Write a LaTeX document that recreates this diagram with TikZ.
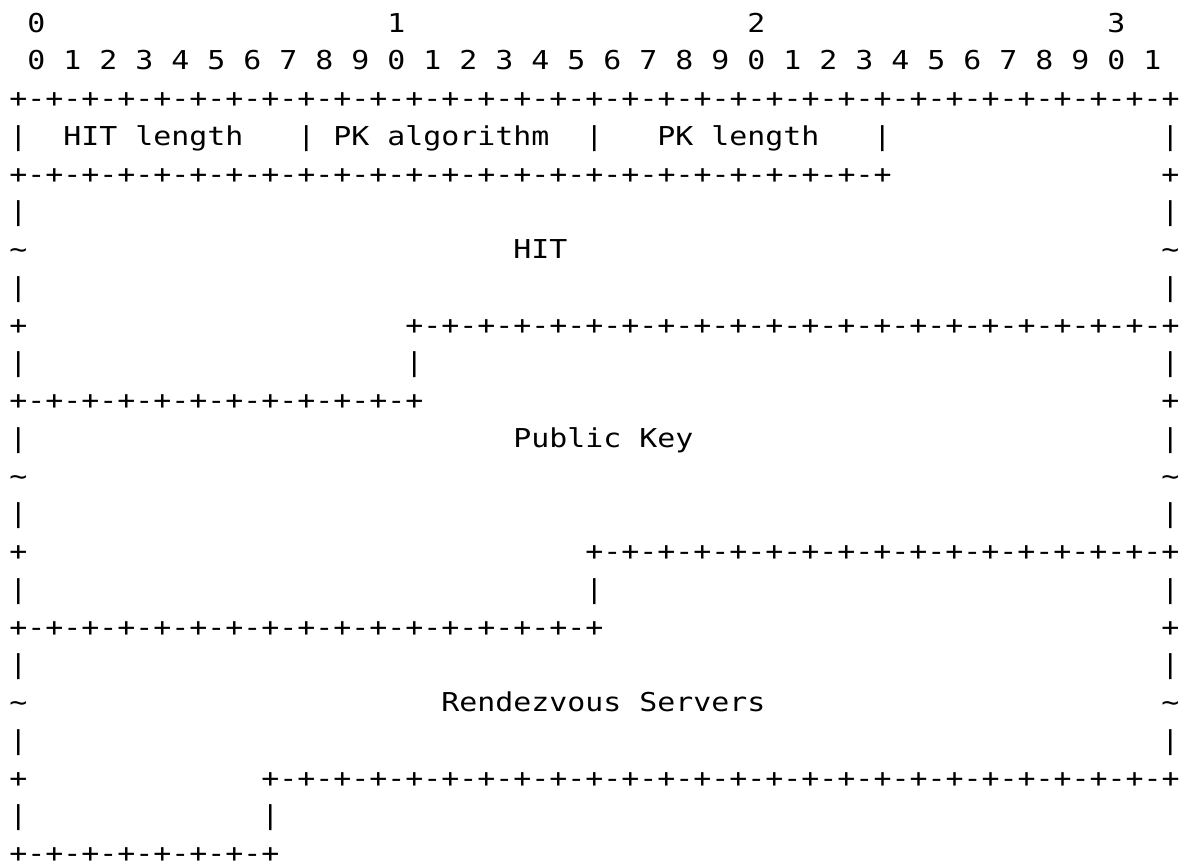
\documentclass[tikz,border=0pt]{standalone}
\usepackage{fontspec}
\newfontfamily\asciifont{DejaVu Sans Mono}[FakeStretch=1.15]
\ExplSyntaxOn
\cs_new:Npn \plusline #1 { \prg_replicate:nn {#1} {+-} + }
\ExplSyntaxOff
\tikzset{
	ascii/.style={font=\asciifont\fontsize{7.4}{9}\selectfont, inner sep=0pt, outer sep=0pt, anchor=base west},
}

\begin{document}
\begin{tikzpicture}[x=0.18cm, y=-0.3775cm]
	\useasboundingbox (-0.5167,-0.8477) rectangle (64.983,22.04);
	% bit ruler
	\foreach \d in {0,...,3}
		\node[ascii] (ten\d) at (1+20*\d,0) {\d};
	\foreach \b in {0,...,31}{
		\pgfmathtruncatemacro\u{mod(\b,10)}
		\node[ascii] (bit\b) at (2*\b+1,1) {\u};
	}
	% field borders
	\node[ascii] (top) at (0,2) {\plusline{32}};
	\node[ascii] (hdrline) at (0,4) {\plusline{24}};
	\node[ascii] (hitline) at (22,8) {\plusline{21}};
	\node[ascii] (hitend) at (0,10) {\plusline{11}};
	\node[ascii] (pkline) at (32,14) {\plusline{16}};
	\node[ascii] (pkend) at (0,16) {\plusline{16}};
	\node[ascii] (rvsline) at (14,20) {\plusline{25}};
	\node[ascii] (rvsend) at (0,22) {\plusline{7}};
	% side walls
	\foreach \r/\s in {3/|,5/|,6/\textasciitilde,7/|,8/+,9/|,11/|,12/\textasciitilde,13/|,14/+,15/|,17/|,18/\textasciitilde,19/|,20/+,21/|}
		\node[ascii] (left\r) at (0,\r) {\s};
	\foreach \r/\s in {3/|,4/+,5/|,6/\textasciitilde,7/|,9/|,10/+,11/|,12/\textasciitilde,13/|,15/|,16/+,17/|,18/\textasciitilde,19/|}
		\node[ascii] (right\r) at (64,\r) {\s};
	\foreach \c/\r in {16/3,32/3,48/3,22/9,32/15,14/21}
		\node[ascii] (sep\c-\r) at (\c,\r) {|};
	% field names
	\node[ascii] (hitlen) at (3,3) {HIT length};
	\node[ascii] (pkalg) at (18,3) {PK algorithm};
	\node[ascii] (pklen) at (36,3) {PK length};
	\node[ascii] (hit) at (28,6) {HIT};
	\node[ascii] (pubkey) at (28,11) {Public Key};
	\node[ascii] (rvs) at (24,18) {Rendezvous Servers};
\end{tikzpicture}
\end{document}
